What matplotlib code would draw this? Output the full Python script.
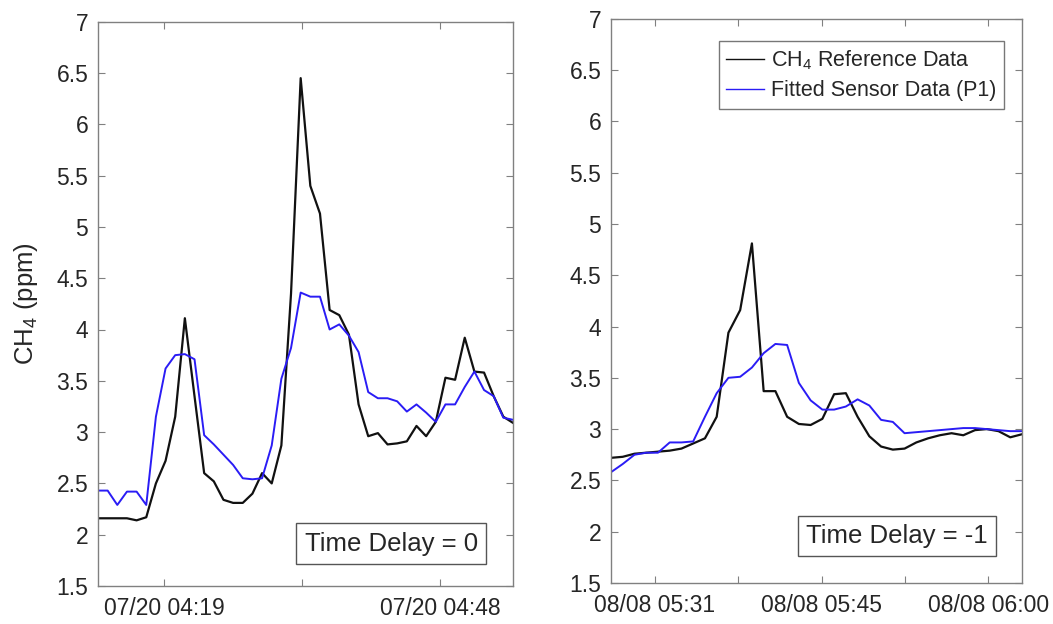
import numpy as np
import matplotlib
matplotlib.use("Agg")
import matplotlib.pyplot as plt
from matplotlib.ticker import FormatStrFormatter

# ---------------- data ----------------
# Left panel (07/20), one sample per minute
left_ref = [2.16, 2.16, 2.16, 2.16, 2.14, 2.17, 2.50, 2.72, 3.15, 4.11,
            3.35, 2.60, 2.52, 2.34, 2.31, 2.31, 2.40, 2.60, 2.50, 2.87,
            4.35, 6.45, 5.40, 5.13, 4.19, 4.14, 3.95, 3.27, 2.96, 2.99,
            2.88, 2.89, 2.91, 3.06, 2.96, 3.10, 3.53, 3.51, 3.92, 3.59,
            3.58, 3.35, 3.15, 3.09]
left_fit = [2.43, 2.43, 2.29, 2.42, 2.42, 2.29, 3.15, 3.62, 3.75, 3.76,
            3.71, 2.97, 2.88, 2.78, 2.68, 2.55, 2.54, 2.55, 2.87, 3.52,
            3.82, 4.36, 4.32, 4.32, 4.00, 4.05, 3.94, 3.78, 3.39, 3.33,
            3.33, 3.30, 3.20, 3.27, 3.19, 3.10, 3.27, 3.27, 3.44, 3.59,
            3.41, 3.35, 3.14, 3.12]
left_tick_pos = [6.84, 21.14, 35.44]
left_tick_labels = ["07/20 04:19", "", "07/20 04:48"]
left_note = "Time Delay = 0"

# Right panel (08/08)
right_ref = [2.72, 2.73, 2.76, 2.77, 2.78, 2.79, 2.81, 2.86, 2.91, 3.12,
             3.94, 4.16, 4.81, 3.37, 3.37, 3.12, 3.05, 3.04, 3.10, 3.34,
             3.35, 3.12, 2.93, 2.83, 2.80, 2.81, 2.87, 2.91, 2.94, 2.96,
             2.94, 2.99, 3.00, 2.98, 2.92, 2.95]
right_fit = [2.58, 2.66, 2.75, 2.77, 2.77, 2.87, 2.87, 2.88, 3.12, 3.35,
             3.50, 3.51, 3.60, 3.74, 3.83, 3.82, 3.45, 3.28, 3.19, 3.19,
             3.22, 3.29, 3.23, 3.09, 3.07, 2.96, 2.97, 2.98, 2.99, 3.00,
             3.01, 3.01, 3.00, 2.99, 2.98, 2.98]
right_tick_pos = [3.75, 10.84, 17.94, 25.04, 32.13]
right_tick_labels = ["08/08 05:31", "", "08/08 05:45", "", "08/08 06:00"]
right_note = "Time Delay = -1"

yticks = [1.5, 2, 2.5, 3, 3.5, 4, 4.5, 5, 5.5, 6, 6.5, 7]
series_labels = ["CH$_4$ Reference Data", "Fitted Sensor Data (P1)"]

# ---------------- style ----------------
plt.rcParams['font.family'] = ['Liberation Sans', 'DejaVu Sans']
plt.rcParams['mathtext.fontset'] = 'custom'
plt.rcParams['mathtext.rm'] = 'Liberation Sans'
plt.rcParams['mathtext.it'] = 'Liberation Sans'
TXT = '#262626'
AXC = '#808080'
BLUE = '#2a1cf5'

fig = plt.figure(figsize=(10.53, 6.24), dpi=100)
W, H = 1053, 624

def make_ax(l, r, t, b):
    return fig.add_axes([l / W, 1 - b / H, (r - l) / W, (b - t) / H])

axL = make_ax(98, 513, 21.7, 586)
axR = make_ax(611, 1022, 18.7, 583)

def style(ax, ref, fit, tpos, tlabels, note, note_box):
    x = np.arange(len(ref))
    ax.plot(x, ref, color='#111111', lw=1.6, label=series_labels[0])
    ax.plot(x, fit, color=BLUE, lw=1.4, label=series_labels[1])
    ax.set_xlim(0, len(ref) - 1)
    ax.set_ylim(1.5, 7)
    ax.set_yticks(yticks)
    ax.yaxis.set_major_formatter(FormatStrFormatter('%g'))
    ax.set_xticks(tpos)
    ax.set_xticklabels(tlabels)
    ax.tick_params(direction='in', length=5, width=0.8, color=AXC,
                   labelsize=16.5, labelcolor=TXT, top=True, right=True, pad=8)
    ax.tick_params(axis='y', pad=7)
    for s in ax.spines.values():
        s.set_color(AXC)
        s.set_linewidth(1.0)
    ax.text(note_box[0], note_box[1], note, transform=ax.transAxes,
            fontsize=18.5, color=TXT, ha='center', va='center',
            bbox=dict(boxstyle='square,pad=0.33', fc='white', ec='#555555', lw=1.0))

style(axL, left_ref, left_fit, left_tick_pos, left_tick_labels, left_note,
      ((391.3 - 98) / 415, 1 - (543.7 - 21.7) / 564.3))
style(axR, right_ref, right_fit, right_tick_pos, right_tick_labels, right_note,
      ((897 - 611) / 411, 1 - (536 - 18.7) / 564.3))

axL.set_ylabel("CH$_4$ (ppm)", fontsize=18.5, color=TXT, labelpad=12)

leg = axR.legend(loc='upper right', bbox_to_anchor=(0.957, 0.961), fontsize=15.5,
                 frameon=True, fancybox=False, handlelength=1.75, handletextpad=0.35,
                 borderpad=0.35, labelspacing=0.4, borderaxespad=0)
leg.get_frame().set_edgecolor('#555555')
leg.get_frame().set_linewidth(1.0)
for t in leg.get_texts():
    t.set_color(TXT)
for ln in leg.get_lines():
    ln.set_linewidth(1.0)

fig.savefig("out.png", dpi=100)
